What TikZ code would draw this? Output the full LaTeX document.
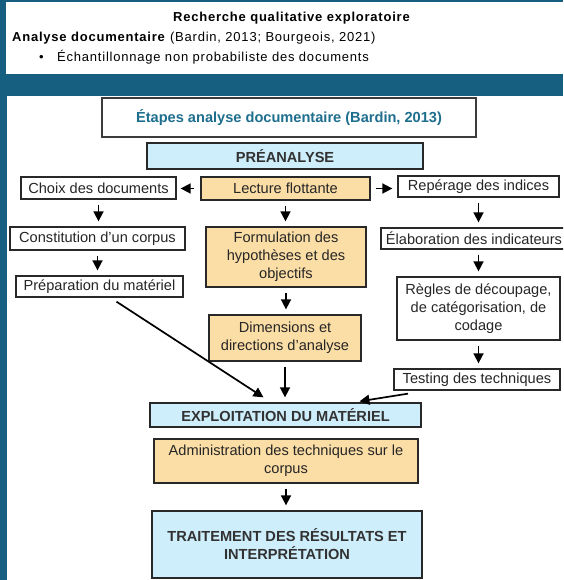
\documentclass[tikz,border=0pt]{standalone}
\usepackage{fontspec}
\setmainfont{Liberation Sans}
\newfontfamily\hdrfont[LetterSpace=6]{Liberation Sans}
\usetikzlibrary{arrows.meta,calc}
\definecolor{frameblue}{RGB}{23,95,128}
\definecolor{boxorange}{RGB}{251,221,166}
\definecolor{boxblue}{RGB}{206,238,251}
\definecolor{titleteal}{RGB}{30,110,142}
\definecolor{txt}{RGB}{38,38,38}
\definecolor{edgegray}{RGB}{40,40,40}
\begin{document}
\begin{tikzpicture}[x=1pt,y=-1pt,
  base/.style={draw=edgegray, line width=1.3pt, inner sep=0pt, align=center, text=txt, font=\fontsize{14.6}{18}\selectfont},
  plainbox/.style={base, fill=white},
  orangebox/.style={base, fill=boxorange},
  phasebox/.style={base, fill=boxblue, text={rgb,255:red,50;green,50;blue,50}, font=\fontsize{14.6}{18}\selectfont\bfseries},
  titlebox/.style={base, draw={rgb,255:red,60;green,60;blue,60}, line width=1.8pt, fill=white, text=titleteal, font=\fontsize{14.6}{18}\selectfont\bfseries},
  hdr/.style={inner sep=0pt, font=\hdrfont\fontsize{13}{15}\selectfont, text=black},
  arr/.style={draw=black, line width=1.7pt, -{Triangle[length=10pt,width=10pt]}, shorten >=5pt, shorten <=5pt},
  diag/.style={draw=black, line width=1.7pt, -{Triangle[length=10pt,width=10pt]}}
]
\useasboundingbox (0,0) rectangle (563,580);
\clip (0,0) rectangle (563,580);
% frame
\fill[frameblue] (0,0) rectangle (563,580);
\fill[white] (6,2.5) rectangle (563,74);
\fill[white] (7,96) rectangle (563,580);

% header
\node[hdr, anchor=base] (h1) at (291.5,21.5) {\bfseries Recherche qualitative exploratoire};
\node[hdr, anchor=base west] (h2) at (12,41.5) {\textbf{Analyse documentaire} (Bardin, 2013; Bourgeois, 2021)};
\node[hdr, anchor=base west] (h3) at (39,62) {•};
\node[hdr, anchor=base west] (h4) at (57,62) {Échantillonnage non probabiliste des documents};

% boxes
\node[titlebox, minimum width=374pt, minimum height=39pt] (title) at (289,117.5) {Étapes analyse documentaire (Bardin, 2013)};
\node[phasebox, minimum width=276pt, minimum height=26pt] (pre) at (285,156) {PRÉANALYSE};

\node[plainbox, minimum width=155pt, minimum height=22pt] (choix) at (98.5,188) {Choix des documents};
\node[orangebox, minimum width=169pt, minimum height=23pt] (lecture) at (285.5,188.5) {Lecture flottante};
\node[plainbox, minimum width=161pt, minimum height=21pt] (reperage) at (478.5,186.5) {Repérage des indices};

\node[plainbox, minimum width=175pt, minimum height=23pt] (const) at (97.5,238.5) {Constitution d’un corpus};
\node[orangebox, minimum width=160pt, minimum height=60pt] (form) at (286,257) {Formulation des\\hypothèses et des\\objectifs};
\node[plainbox, minimum width=186pt, minimum height=21pt] (elab) at (474,238.5) {Élaboration des indicateurs};

\node[plainbox, minimum width=167pt, minimum height=21pt] (prep) at (99.5,286.5) {Préparation du matériel};
\node[plainbox, minimum width=163pt, minimum height=63pt] (regles) at (478.5,308.5) {Règles de découpage,\\de catégorisation, de\\codage};
\node[orangebox, minimum width=152pt, minimum height=46pt] (dim) at (285,338) {Dimensions et\\directions d’analyse};
\node[plainbox, minimum width=166pt, minimum height=21pt] (testing) at (477,379.5) {Testing des techniques};

\node[phasebox, minimum width=271pt, minimum height=24pt] (expl) at (285.5,415) {EXPLOITATION DU MATÉRIEL};
\node[orangebox, minimum width=264pt, minimum height=44pt] (admin) at (286,461) {Administration des techniques sur le\\corpus};
\node[phasebox, minimum width=270pt, minimum height=67pt] (trait) at (287,544.5) {TRAITEMENT DES RÉSULTATS ET\\INTERPRÉTATION};

% arrows
\draw[arr, shorten <=6pt, shorten >=4pt] (lecture.west) -- (lecture.west -| choix.east);
\draw[arr] (lecture.east) -- (lecture.east -| reperage.west);
\draw[arr] (choix.south) -- (choix.south |- const.north);
\draw[arr] (const.south) -- (const.south |- prep.north);
\draw[arr] (lecture.south) -- (lecture.south |- form.north);
\draw[arr] (form.south) -- (form.south |- dim.north);
\draw[arr] (dim.south) -- (dim.south |- expl.north);
\draw[arr] (reperage.south) -- (reperage.south |- elab.north);
\draw[arr] (regles.north |- elab.south) -- (regles.north);
\draw[arr] (regles.south) -- (regles.south |- testing.north);
\draw[arr] (admin.south) -- (admin.south |- trait.north);
\draw[diag] ([xshift=17pt,yshift=-4pt]prep.south) -- ([xshift=-22pt,yshift=5pt]expl.north);
\draw[diag] ([xshift=-69pt,yshift=-3pt]testing.south) -- ([xshift=74pt,yshift=1pt]expl.north);
\end{tikzpicture}
\end{document}
